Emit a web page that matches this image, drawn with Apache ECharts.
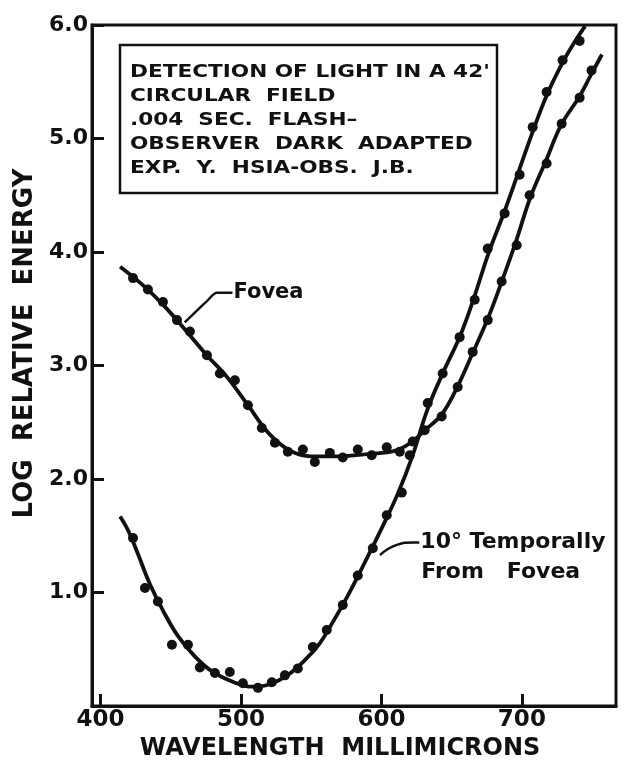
<!DOCTYPE html>
<html>
<head>
<meta charset="utf-8">
<script src="https://cdn.jsdelivr.net/npm/echarts@6.0.0/dist/echarts.min.js"></script>
<style>
  html, body { margin: 0; padding: 0; background: #fff; }
  #chart { width: 627px; height: 772px; }
</style>
</head>
<body>
<div id="chart"></div>
<script>
// Axis ticks
const xTicks = [400, 500, 600, 700];

// Fovea: fitted curve and measured thresholds  [wavelength (mμ), log relative energy]
const foveaCurve = [
  [414, 3.87], [430, 3.71], [445, 3.53], [460, 3.32], [475, 3.10], [490, 2.90],
  [505, 2.65], [520, 2.40], [535, 2.25], [550, 2.20], [570, 2.20], [590, 2.22],
  [610, 2.25], [622, 2.33], [631, 2.43], [643, 2.57], [654, 2.81], [665, 3.11],
  [676, 3.42], [686, 3.75], [696, 4.10], [706, 4.48], [717, 4.80], [728, 5.12],
  [741, 5.37], [750, 5.58], [757, 5.74]
];
const foveaPoints = [
  [423.2, 3.77], [433.8, 3.67], [444.5, 3.56], [454.5, 3.40], [463.7, 3.30],
  [475.8, 3.09], [485.0, 2.93], [495.7, 2.87], [505.0, 2.65], [514.9, 2.45],
  [524.2, 2.32], [533.4, 2.24], [544.1, 2.26], [552.6, 2.15], [563.3, 2.23],
  [572.5, 2.19], [583.2, 2.26], [593.1, 2.21], [603.8, 2.28], [613.1, 2.24],
  [622.3, 2.33], [630.8, 2.43], [642.9, 2.55], [654.3, 2.81], [665.0, 3.12],
  [675.7, 3.40], [685.6, 3.74], [696.3, 4.06], [705.5, 4.50], [717.6, 4.78],
  [728.3, 5.13], [741.1, 5.36], [749.6, 5.60]
];

// 10° temporally from fovea: fitted curve and measured thresholds
const periCurve = [
  [414, 1.67], [420, 1.54], [427, 1.33], [435, 1.08], [445, 0.83], [455, 0.62],
  [467, 0.44], [480, 0.30], [495, 0.21], [508, 0.17], [520, 0.19], [533, 0.27],
  [546, 0.41], [556, 0.55], [565, 0.73], [576, 0.97], [588, 1.26], [600, 1.56],
  [612, 1.88], [622, 2.20], [633, 2.62], [644, 2.94], [656, 3.26], [666, 3.60],
  [676, 3.98], [688, 4.37], [698, 4.72], [708, 5.07], [718, 5.39], [729, 5.67],
  [737, 5.84], [745, 5.99]
];
const periPoints = [
  [423.2, 1.48], [431.7, 1.04], [440.9, 0.92], [450.9, 0.54], [462.3, 0.54],
  [470.8, 0.34], [481.5, 0.29], [492.1, 0.30], [501.4, 0.20], [512.1, 0.16],
  [522.0, 0.21], [531.3, 0.27], [540.5, 0.33], [551.2, 0.52], [561.1, 0.67],
  [572.5, 0.89], [583.2, 1.15], [593.9, 1.39], [603.8, 1.68], [614.5, 1.88],
  [620.2, 2.21], [633.0, 2.67], [643.6, 2.93], [655.7, 3.25], [666.4, 3.58],
  [675.7, 4.03], [687.7, 4.34], [698.4, 4.68], [707.7, 5.10], [717.6, 5.41],
  [729.0, 5.69], [741.1, 5.86]
];

// Leader lines from the curve labels to their curves
const foveaLeader = [[460, 3.38], [476, 3.57], [483, 3.64], [494, 3.64]];
const periLeader = [[599, 1.33], [611, 1.42], [622, 1.44], [627, 1.44]];

const foveaLabel = 'Fovea';
const periLabel = ['10° Temporally', 'From   Fovea'];

const noteLines = [
  "DETECTION OF LIGHT IN A 42'",
  'CIRCULAR  FIELD',
  '.004  SEC.  FLASH\u2013',
  'OBSERVER  DARK  ADAPTED',
  'EXP.  Y.  HSIA-OBS.  J.B.'
];

const INK = '#111';
const FONT = '"DejaVu Sans", "Liberation Sans", sans-serif';

const chart = echarts.init(document.getElementById('chart'));

const curveLine = { color: INK, width: 3.8 };
const leaderLine = { color: INK, width: 2.5 };
const dotStyle = { color: INK, opacity: 1 };

chart.setOption({
  animation: false,
  backgroundColor: '#fff',
  grid: {
    left: 92, right: 11, top: 25, bottom: 66,
    show: true, borderColor: INK, borderWidth: 3, backgroundColor: 'transparent'
  },
  xAxis: {
    type: 'value', min: 394, max: 767,
    name: 'WAVELENGTH  MILLIMICRONS',
    nameLocation: 'middle', nameGap: 25,
    nameTextStyle: { fontFamily: FONT, fontWeight: 'bold', fontSize: 24, color: INK, padding: [0, 28, 0, 0] },
    axisLine: { show: true, lineStyle: { color: INK, width: 3 } },
    axisTick: { show: true, inside: true, length: 12, customValues: xTicks, lineStyle: { color: INK, width: 3 } },
    axisLabel: { customValues: xTicks, fontFamily: FONT, fontWeight: 'bold', fontSize: 23, color: INK, margin: 3 },
    splitLine: { show: false }
  },
  yAxis: {
    type: 'value', min: 0, max: 6, interval: 1,
    name: 'LOG  RELATIVE  ENERGY',
    nameLocation: 'middle', nameGap: 50, nameRotate: 90,
    nameTextStyle: { fontFamily: FONT, fontWeight: 'bold', fontSize: 26, color: INK, padding: [0, 0, 0, 44] },
    axisLine: { show: true, lineStyle: { color: INK, width: 3 } },
    axisTick: { show: true, inside: true, length: 12, lineStyle: { color: INK, width: 3 } },
    axisLabel: {
      formatter: v => (v === 0 ? '' : v.toFixed(1)),
      fontFamily: FONT, fontWeight: 'bold', fontSize: 22, color: INK, margin: 4
    },
    splitLine: { show: false }
  },
  series: [
    { name: 'Fovea', type: 'line', data: foveaCurve, smooth: 0.4, symbol: 'none', lineStyle: curveLine, z: 2 },
    { name: 'Fovea points', type: 'scatter', data: foveaPoints, symbolSize: 10, itemStyle: dotStyle, z: 3 },
    { name: '10° Temporally', type: 'line', data: periCurve, smooth: 0.4, symbol: 'none', lineStyle: curveLine, z: 2 },
    { name: '10° points', type: 'scatter', data: periPoints, symbolSize: 10, itemStyle: dotStyle, z: 3 },
    { type: 'line', data: foveaLeader, smooth: 0.3, symbol: 'none', lineStyle: leaderLine, z: 2 },
    { type: 'line', data: periLeader, smooth: 0.5, symbol: 'none', lineStyle: leaderLine, z: 2 }
  ]
});

// Labels placed at the ends of the leader lines
const fEnd = chart.convertToPixel({ gridIndex: 0 }, foveaLeader[foveaLeader.length - 1]);
const pEnd = chart.convertToPixel({ gridIndex: 0 }, periLeader[periLeader.length - 1]);

const labelFont = 'bold 21px ' + FONT;
const periFont = 'bold 22px ' + FONT;
const noteFont = 'bold 18px ' + FONT;

const graphics = [
  {
    type: 'rect', shape: { x: 120, y: 45, width: 377, height: 148 },
    style: { fill: '#fff', stroke: INK, lineWidth: 2.5 }, z: 10
  },
  {
    type: 'text', x: fEnd[0] + 1, y: fEnd[1],
    style: { text: foveaLabel, font: labelFont, fill: INK, textAlign: 'left', textVerticalAlign: 'middle' }, z: 10
  },
  {
    type: 'text', x: pEnd[0] + 1, y: pEnd[1],
    style: { text: periLabel[0], font: periFont, fill: INK, textAlign: 'left', textVerticalAlign: 'middle' }, z: 10
  },
  {
    type: 'text', x: pEnd[0] + 2, y: pEnd[1] + 30,
    style: { text: periLabel[1], font: periFont, fill: INK, textAlign: 'left', textVerticalAlign: 'middle' }, z: 10
  }
];
noteLines.forEach((line, i) => {
  graphics.push({
    type: 'text', x: 130, y: 72 + i * 24.2, scaleX: 1.2,
    style: { text: line, font: noteFont, fill: INK, textAlign: 'left', textVerticalAlign: 'middle' }, z: 11
  });
});

chart.setOption({ graphic: graphics });
</script>
</body>
</html>
